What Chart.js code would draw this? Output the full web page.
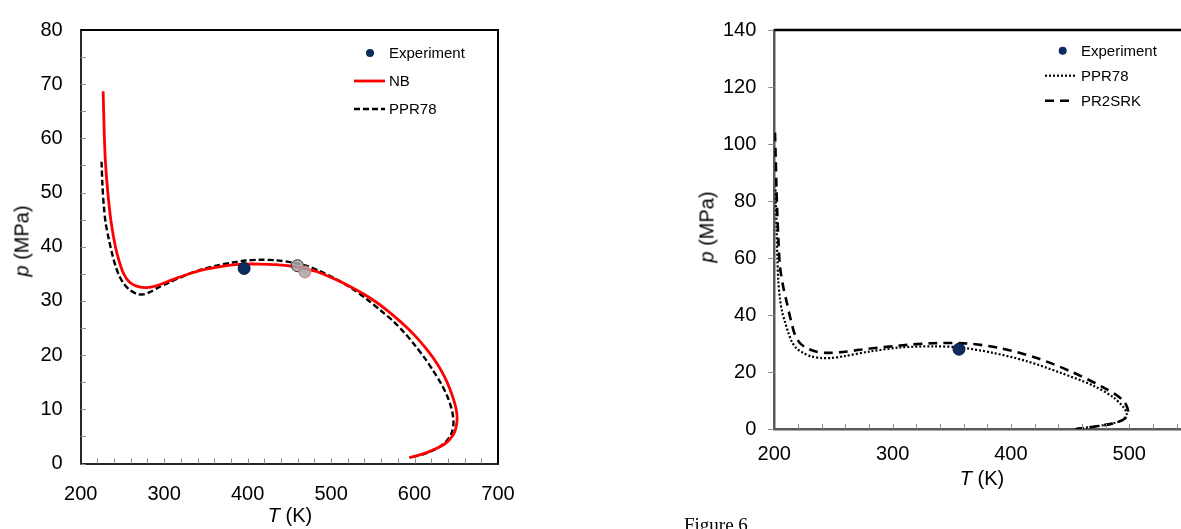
<!DOCTYPE html>
<html>
<head>
<meta charset="utf-8">
<script src="https://cdn.jsdelivr.net/npm/chart.js@4.4.1/dist/chart.umd.min.js"></script>
<style>
html, body { margin: 0; padding: 0; background: #fff; overflow: hidden; width: 1181px; height: 529px; }
body { position: relative; font-family: "Liberation Sans", Arial, sans-serif; }
canvas { position: absolute; top: 0; }
.rotulo { position: absolute; font-size: 20px; white-space: nowrap; color: #000; transform: translate(-50%, -50%); }
.vertical { transform: translate(-50%, -50%) rotate(-90deg); }
.figura { position: absolute; left: 684px; top: 514px; font-family: "Liberation Serif", "Times New Roman", serif; font-size: 19px; white-space: nowrap; }
</style>
</head>
<body>
<canvas id="graficoEsq" width="560" height="529" style="left:0"></canvas>
<canvas id="graficoDir" width="640" height="529" style="left:690px"></canvas>

<div class="rotulo vertical" style="left:22px; top:241px"><i>p</i> (MPa)</div>
<div class="rotulo" style="left:290px; top:515px"><i>T</i> (K)</div>
<div class="rotulo vertical" style="left:707px; top:227px"><i>p</i> (MPa)</div>
<div class="rotulo" style="left:982px; top:478px"><i>T</i> (K)</div>
<div class="figura">Figure 6</div>

<script>
// ---- gráfico da esquerda ----
const expEsqT = [395.8];
const expEsqP = [36.0];
const cinzaT = [459.7, 468.6];
const cinzaP = [36.5, 35.35];

const nbT = [226.9, 228, 229.5, 232.5, 236.5, 241.6, 246, 251.5, 259, 268, 279, 291, 303, 322, 342.6, 362, 382, 398, 414, 434, 453.5, 470, 485, 505, 525, 540, 553, 566, 580, 592, 604, 617, 628, 636, 642, 647, 650, 651, 650.3, 648, 643, 636, 626, 616, 605, 594];
const nbP = [68.7, 62, 56, 50, 44.5, 40, 37.4, 35, 33.4, 32.7, 32.45, 32.8, 33.5, 34.6, 35.6, 36.2, 36.65, 36.8, 36.8, 36.7, 36.4, 35.9, 35.3, 34.0, 32.5, 31.2, 29.9, 28.4, 26.6, 24.9, 23.0, 20.6, 18.2, 16.0, 13.9, 11.7, 9.9, 8.5, 7.1, 5.8, 4.6, 3.6, 2.75, 2.1, 1.55, 1.1];

const ppr78EsqT = [225, 226, 227.7, 230, 233.7, 237.5, 241.6, 246, 251.5, 259, 267.4, 275, 283, 292, 303, 322, 342.6, 362, 382, 398, 414, 434, 453.5, 470, 485, 505, 525, 543, 560.5, 575, 588, 600, 612, 622, 632, 639, 643.8, 646, 646.6, 645.6, 643.3, 638, 631, 622, 612, 603, 594];
const ppr78EsqP = [55.7, 51.5, 47.5, 44.3, 41.4, 38.8, 36.5, 34.7, 33.2, 32, 31.3, 31.2, 31.65, 32.4, 33.2, 34.5, 35.7, 36.5, 37.1, 37.45, 37.6, 37.5, 37.1, 36.5, 35.6, 34.1, 32.3, 30.3, 28.1, 26.2, 24.1, 21.9, 19.5, 17.2, 14.7, 12.5, 10.4, 8.8, 7.3, 6.2, 5.2, 4.1, 3.2, 2.4, 1.8, 1.4, 1.1];

// ---- gráfico da direita ----
const expDirT = [356.1];
const expDirP = [28.0];

const ppr78DirT = [201, 201.3, 202, 202.6, 203.4, 204.8, 206.7, 209, 211.7, 214.7, 219, 224.5, 231, 240, 248, 258.3, 281, 306.3, 334.4, 357, 385.1, 413.3, 441.5, 469.7, 486.6, 495, 497.9, 495, 486.6, 469.7, 454.2];
const ppr78DirP = [84, 80, 70, 60, 52, 45.6, 41, 37.6, 34, 30.7, 28.2, 26.7, 25.5, 24.9, 24.9, 25.5, 27.2, 28.6, 29, 28.6, 26.7, 23.8, 19.8, 15.2, 11.1, 7.7, 5.4, 3.3, 2, 0.8, 0];

const pr2srkT = [200.6, 201.2, 201.8, 202.5, 203.5, 204.8, 207.5, 210.5, 213.8, 217.5, 222, 227.4, 235, 244.3, 258, 272.4, 306.3, 334.4, 362.6, 390.8, 421.8, 450, 478.1, 495, 499.2, 496.5, 486.6, 470, 455];
const pr2srkP = [104, 95, 85, 76, 66, 57, 50, 44.5, 38.5, 33, 30, 28.4, 27.2, 26.7, 27, 27.8, 29.3, 30.1, 30, 28.4, 24.9, 20.3, 14.6, 10, 6, 3.7, 2, 0.8, 0];

const pts = (T, p) => T.map((t, i) => ({ x: t, y: p[i] }));
const fonte = "'Liberation Sans', Arial, sans-serif";

// ticks, moldura e legenda desenhados à mão
const decoracao = {
    id: 'decoracao',
    afterDraw(chart, args, o) {
        const { ctx, chartArea: a, scales } = chart;
        ctx.save();
        ctx.lineWidth = 1;
        ctx.strokeStyle = o.corTick;
        ctx.setLineDash([]);
        for (let v = scales.x.min + o.passoX; v < scales.x.max; v += o.passoX) {
            const px = Math.round(scales.x.getPixelForValue(v)) + 0.5;
            ctx.beginPath(); ctx.moveTo(px, a.bottom); ctx.lineTo(px, a.bottom + o.tamX); ctx.stroke();
        }
        for (let v = scales.y.min; v < scales.y.max + 0.01; v += o.passoY) {
            const py = Math.round(scales.y.getPixelForValue(v)) + 0.5;
            ctx.beginPath(); ctx.moveTo(a.left, py); ctx.lineTo(a.left + o.tamY, py); ctx.stroke();
        }
        // bordas de cima e da direita
        ctx.strokeStyle = '#000';
        ctx.lineWidth = o.larguraMoldura;
        ctx.beginPath(); ctx.moveTo(a.left, a.top); ctx.lineTo(a.right, a.top);
        if (o.direita) ctx.lineTo(a.right, a.bottom);
        ctx.stroke();

        // legenda
        const L = o.legenda;
        ctx.font = "15px " + fonte;
        ctx.textBaseline = 'middle';
        ctx.fillStyle = '#000';
        L.itens.forEach((idx, i) => {
            const ds = chart.data.datasets[idx];
            const y = L.y + i * L.gap;
            if (ds.showLine) {
                ctx.strokeStyle = ds.borderColor;
                ctx.lineWidth = ds.borderWidth;
                ctx.setLineDash(ds.borderDash || []);
                ctx.beginPath(); ctx.moveTo(L.x1, y); ctx.lineTo(L.x2, y); ctx.stroke();
                ctx.setLineDash([]);
            } else {
                ctx.fillStyle = ds.pointBackgroundColor;
                ctx.beginPath(); ctx.arc(L.xm, y, 4, 0, Math.PI * 2); ctx.fill();
                ctx.fillStyle = '#000';
            }
            ctx.fillText(ds.label, L.xt, y + 1);
        });
        ctx.restore();
    }
};

function eixo(min, max, passo, fixar, cor, largura, pad) {
    return {
        type: 'linear', min: min, max: max,
        ticks: { stepSize: passo, color: '#000', font: { family: fonte, size: 20 }, padding: pad },
        grid: { display: false, drawTicks: false },
        border: { display: true, color: cor, width: largura },
        afterFit: fixar
    };
}

new Chart(document.getElementById('graficoEsq'), {
    type: 'scatter',
    data: {
        datasets: [
            { label: 'Experiment', data: pts(expEsqT, expEsqP), showLine: false, pointRadius: 6,
              pointBackgroundColor: '#0d2b5e', pointBorderColor: '#07183a', pointBorderWidth: 1 },
            { label: '', data: pts(cinzaT, cinzaP), showLine: false, pointRadius: 6,
              pointBackgroundColor: 'rgba(165,165,165,0.85)', pointBorderColor: ['#333333', '#e07a7a'], pointBorderWidth: 1 },
            { label: 'NB', data: pts(nbT, nbP), showLine: true, borderColor: '#ff0000', borderWidth: 2.8,
              pointRadius: 0, tension: 0.3 },
            { label: 'PPR78', data: pts(ppr78EsqT, ppr78EsqP), showLine: true, borderColor: '#000000', borderWidth: 2.4,
              borderDash: [6, 3], pointRadius: 0, tension: 0.3 }
        ]
    },
    plugins: [decoracao],
    options: {
        responsive: false,
        animation: false,
        layout: { padding: { top: 22.5, right: 62, left: 0, bottom: 0 } },
        scales: {
            x: eixo(200, 700, 100, s => { s.height = 65.5; }, '#262626', 2, 19),
            y: eixo(0, 80, 10, s => { s.width = 80.7; }, '#262626', 2, 18)
        },
        plugins: {
            legend: { display: false },
            tooltip: { enabled: false },
            decoracao: {
                corTick: '#8c8c8c', passoX: 20, tamX: -5, passoY: 5, tamY: 5,
                larguraMoldura: 2, direita: true,
                legenda: { x1: 354, x2: 385, xm: 370, xt: 389, y: 53, gap: 28, itens: [0, 2, 3] }
            }
        }
    }
});

new Chart(document.getElementById('graficoDir'), {
    type: 'scatter',
    data: {
        datasets: [
            { label: 'Experiment', data: pts(expDirT, expDirP), showLine: false, pointRadius: 6,
              pointBackgroundColor: '#0d2b5e', pointBorderColor: '#07183a', pointBorderWidth: 1 },
            { label: 'PPR78', data: pts(ppr78DirT, ppr78DirP), showLine: true, borderColor: '#000000', borderWidth: 2.2,
              borderDash: [2, 2], pointRadius: 0, tension: 0.3 },
            { label: 'PR2SRK', data: pts(pr2srkT, pr2srkP), showLine: true, borderColor: '#000000', borderWidth: 2.6,
              borderDash: [9, 6], pointRadius: 0, tension: 0.3 }
        ]
    },
    plugins: [decoracao],
    options: {
        responsive: false,
        animation: false,
        layout: { padding: { top: 22.7, right: 82.5, left: 0, bottom: 0 } },
        scales: {
            x: eixo(200, 600, 100, s => { s.height = 100; }, '#5a5a5a', 2.5, 13),
            y: eixo(0, 140, 20, s => { s.width = 84.3; }, '#5a5a5a', 2.5, 18)
        },
        plugins: {
            legend: { display: false },
            tooltip: { enabled: false },
            decoracao: {
                corTick: '#8c8c8c', passoX: 20, tamX: -5, passoY: 20, tamY: -6,
                larguraMoldura: 2.5, direita: false,
                legenda: { x1: 355, x2: 385, xm: 372.7, xt: 391, y: 50.7, gap: 25, itens: [0, 1, 2] }
            }
        }
    }
});
</script>
</body>
</html>
